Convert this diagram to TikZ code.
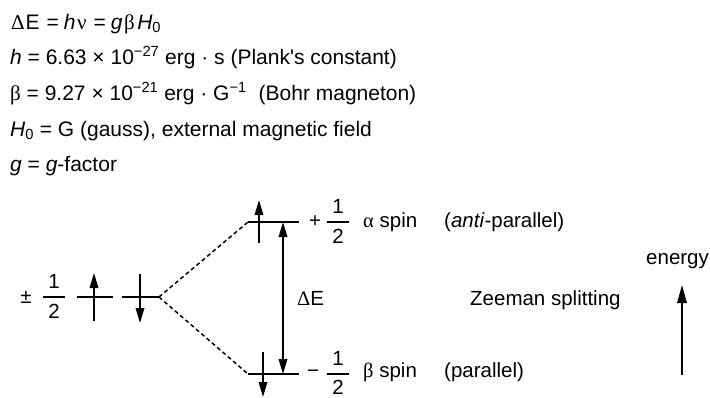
\documentclass[tikz,border=0pt]{standalone}
\usepackage{fontspec}
\setmainfont{Liberation Sans}
\newfontfamily\gk{Liberation Serif}
\usetikzlibrary{arrows.meta}
\begin{document}
\begin{tikzpicture}[x=1pt,y=-1pt,
  font=\fontsize{20.5}{24}\selectfont,
  txt/.style={anchor=base west,inner sep=0pt},
  ftxt/.style={txt,font=\fontsize{21}{25}\selectfont},
  dig/.style={anchor=base,inner sep=0pt},
  sgn/.style={anchor=center,inner sep=0pt},
  level/.style={line width=1.8pt},
  fbar/.style={line width=1.4pt},
  spinarrow/.style={line width=1.7pt,-{Triangle[length=15pt,width=8.5pt]}},
  dearrow/.style={line width=1.7pt,{Triangle[length=15pt,width=8.5pt]}-{Triangle[length=15pt,width=8.5pt]}},
  enarrow/.style={line width=1.6pt,-{Triangle[length=18pt,width=9.5pt]}},
  dline/.style={line width=1.5pt,dash pattern=on 4pt off 3pt}]
\useasboundingbox (0,0) rectangle (710,397);

% formula lines
\node[ftxt] (l1) at (11,29) {{\gk Δ}\hspace{1pt}E\hspace{7pt}=\hspace{5pt}\textit{h}\hspace{1.5pt}{\gk ν}\hspace{7pt}=\hspace{5pt}\textit{g}\hspace{1.5pt}{\gk β}\hspace{2.5pt}\textit{H}\textsubscript{0}};
\node[ftxt] (l2) at (10,64) {\textit{h} = 6.63 × 10\textsuperscript{−27} erg · s (Plank\textquotesingle s constant)};
\node[ftxt] (l3) at (10,100) {{\gk β} = 9.27 × 10\textsuperscript{−21} erg · G\textsuperscript{−1}\hspace{6pt} (Bohr magneton)};
\node[ftxt] (l4) at (10,136) {\textit{H}\textsubscript{0} = G (gauss), external magnetic field};
\node[ftxt] (l5) at (10,171) {\textit{g} = \textit{g}-factor};

% left degenerate level
\node[sgn] (pm) at (26,297) {±};
\node[dig] (ln) at (54,288) {1};
\node[dig] (ld) at (54,318) {2};
\coordinate (lb1) at (43,297); \coordinate (lb2) at (65,297);
\draw[fbar] (lb1) -- (lb2);
\coordinate (a1) at (77,297); \coordinate (a2) at (113,297);
\coordinate (b1) at (122,297); \coordinate (b2) at (159,297);
\draw[level] (a1) -- (a2);
\draw[level] (b1) -- (b2);
\coordinate (u1s) at (94,321); \coordinate (u1e) at (94,273);
\draw[spinarrow] (u1s) -- (u1e);
\coordinate (d1s) at (140,274); \coordinate (d1e) at (140,323);
\draw[spinarrow] (d1s) -- (d1e);

% upper level
\coordinate (ua) at (248,222); \coordinate (ub) at (299,222);
\draw[level] (ua) -- (ub);
\coordinate (u2s) at (259,243); \coordinate (u2e) at (259,200);
\draw[spinarrow] (u2s) -- (u2e);
\node[sgn] (plus) at (315,222) {+};
\node[dig] (un) at (338,213) {1};
\node[dig] (ud) at (338,243) {2};
\coordinate (ub1) at (327,222); \coordinate (ub2) at (349,222);
\draw[fbar] (ub1) -- (ub2);
\node[txt] (alpha) at (363,227) {{\gk α} spin};
\node[txt] (anti) at (444,227) {(\textit{anti}-parallel)};

% lower level
\coordinate (la) at (248,374); \coordinate (lbb) at (299,374);
\draw[level] (la) -- (lbb);
\coordinate (d2s) at (263,352); \coordinate (d2e) at (263,397);
\draw[spinarrow] (d2s) -- (d2e);
\node[sgn] (minus) at (313,374) {−};
\node[dig] (lnn) at (338,365) {1};
\node[dig] (ldd) at (338,394) {2};
\coordinate (lb3) at (327,374); \coordinate (lb4) at (349,374);
\draw[fbar] (lb3) -- (lb4);
\node[txt] (beta) at (363,377) {{\gk β} spin};
\node[txt] (par) at (444,377) {(parallel)};

% dashed connectors
\draw[dline] (b2) -- (ua);
\draw[dline] (b2) -- (la);

% Delta E
\coordinate (det) at (283,222); \coordinate (deb) at (283,374);
\draw[dearrow] (det) -- (deb);
\node[txt] (de) at (297,305) {{\gk Δ}E};

\node[txt] (zee) at (470,305) {Zeeman splitting};
\node[txt] (en) at (646,264) {energy};
\coordinate (es) at (682,375); \coordinate (ee) at (682,285);
\draw[enarrow] (es) -- (ee);
\end{tikzpicture}
\end{document}
